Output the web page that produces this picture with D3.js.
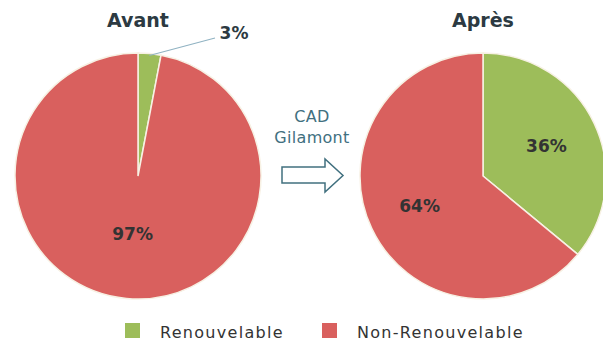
<!DOCTYPE html>
<html>
<head>
<meta charset="utf-8">
<script src="https://cdn.jsdelivr.net/npm/d3@7"></script>
<style>
  html, body { margin: 0; padding: 0; background: #ffffff; }
  svg { display: block; }
</style>
</head>
<body>
<svg id="chart" width="603" height="342"></svg>
<script>
// Energy mix before and after the CAD Gilamont district heating network
const categories = ["Renouvelable", "Non-Renouvelable"];
const avantValues = [3, 97];
const apresValues = [36, 64];
const pieTitles = ["Avant", "Après"];
const arrowLabel = ["CAD", "Gilamont"];

const colors = d3.scaleOrdinal()
  .domain(categories)
  .range(["#9dbd5a", "#d9605e"]);

const svg = d3.select("#chart");
const font = "'DejaVu Sans', sans-serif";
const textDark = "#2c3a42";

const radius = 123;
const pies = [
  { title: pieTitles[0], values: avantValues, cx: 138, cy: 176 },
  { title: pieTitles[1], values: apresValues, cx: 483, cy: 176 }
];

const pie = d3.pie().sort(null).value(d => d.value);
const arc = d3.arc().innerRadius(0).outerRadius(radius);

pies.forEach((p, i) => {
  const data = categories.map((c, k) => ({ category: c, value: p.values[k] }));
  const g = svg.append("g").attr("transform", `translate(${p.cx},${p.cy})`);
  const arcs = pie(data);

  g.selectAll("path")
    .data(arcs)
    .join("path")
    .attr("d", arc)
    .attr("fill", d => colors(d.data.category))
    .attr("stroke", "#f7f1e4")
    .attr("stroke-width", 1.5);

  // title above each pie
  svg.append("text")
    .attr("x", p.cx)
    .attr("y", 27)
    .attr("text-anchor", "middle")
    .attr("font-family", font)
    .attr("font-weight", "bold")
    .attr("font-size", 19)
    .attr("fill", textDark)
    .text(p.title);

  arcs.forEach(a => {
    const label = a.data.value + "%";
    const small = a.data.value < 10;
    if (small) {
      // thin slice: label outside with a leader line
      const mid = (a.startAngle + a.endAngle) / 2;
      const sx = Math.sin(mid) * (radius - 2);
      const sy = -Math.cos(mid) * (radius - 2);
      g.append("line")
        .attr("x1", sx).attr("y1", sy)
        .attr("x2", 77).attr("y2", -138)
        .attr("stroke", "#8fb2c2")
        .attr("stroke-width", 1.2);
      g.append("text")
        .attr("x", 96).attr("y", -137)
        .attr("text-anchor", "middle")
        .attr("font-family", font)
        .attr("font-weight", "bold")
        .attr("font-size", 17)
        .attr("fill", textDark)
        .text(label);
    } else {
      const lr = a.data.value > 90 ? 0.47 : 0.57;
      const c = d3.arc().innerRadius(radius * lr).outerRadius(radius * lr).centroid(a);
      g.append("text")
        .attr("x", c[0]).attr("y", c[1])
        .attr("dy", "0.35em")
        .attr("text-anchor", "middle")
        .attr("font-family", font)
        .attr("font-weight", "bold")
        .attr("font-size", 17)
        .attr("fill", "#333333")
        .text(label);
    }
  });
});

// connecting label and arrow between the two pies
const mid = svg.append("g");
mid.selectAll("text")
  .data(arrowLabel)
  .join("text")
  .attr("x", 312)
  .attr("y", (d, i) => 122 + i * 21)
  .attr("text-anchor", "middle")
  .attr("font-family", font)
  .attr("font-size", 16)
  .attr("letter-spacing", 0.3)
  .attr("fill", "#41707f")
  .text(d => d);

const arrowPts = [[282, 167], [325, 167], [325, 159], [343, 175.5], [325, 192], [325, 183], [282, 183]];
mid.append("path")
  .attr("d", d3.line()(arrowPts) + "Z")
  .attr("fill", "#ffffff")
  .attr("stroke", "#41707f")
  .attr("stroke-width", 1.5)
  .attr("stroke-linejoin", "miter");

// legend
const legendItems = [
  { category: categories[0], x: 125, tx: 160 },
  { category: categories[1], x: 322, tx: 357 }
];
const legend = svg.append("g");
legendItems.forEach(it => {
  legend.append("rect")
    .attr("x", it.x).attr("y", 323)
    .attr("width", 15).attr("height", 15)
    .attr("fill", colors(it.category));
  legend.append("text")
    .attr("x", it.tx).attr("y", 338)
    .attr("font-family", font)
    .attr("font-size", 16)
    .attr("letter-spacing", 1.3)
    .attr("fill", "#333333")
    .text(it.category);
});
</script>
</body>
</html>
